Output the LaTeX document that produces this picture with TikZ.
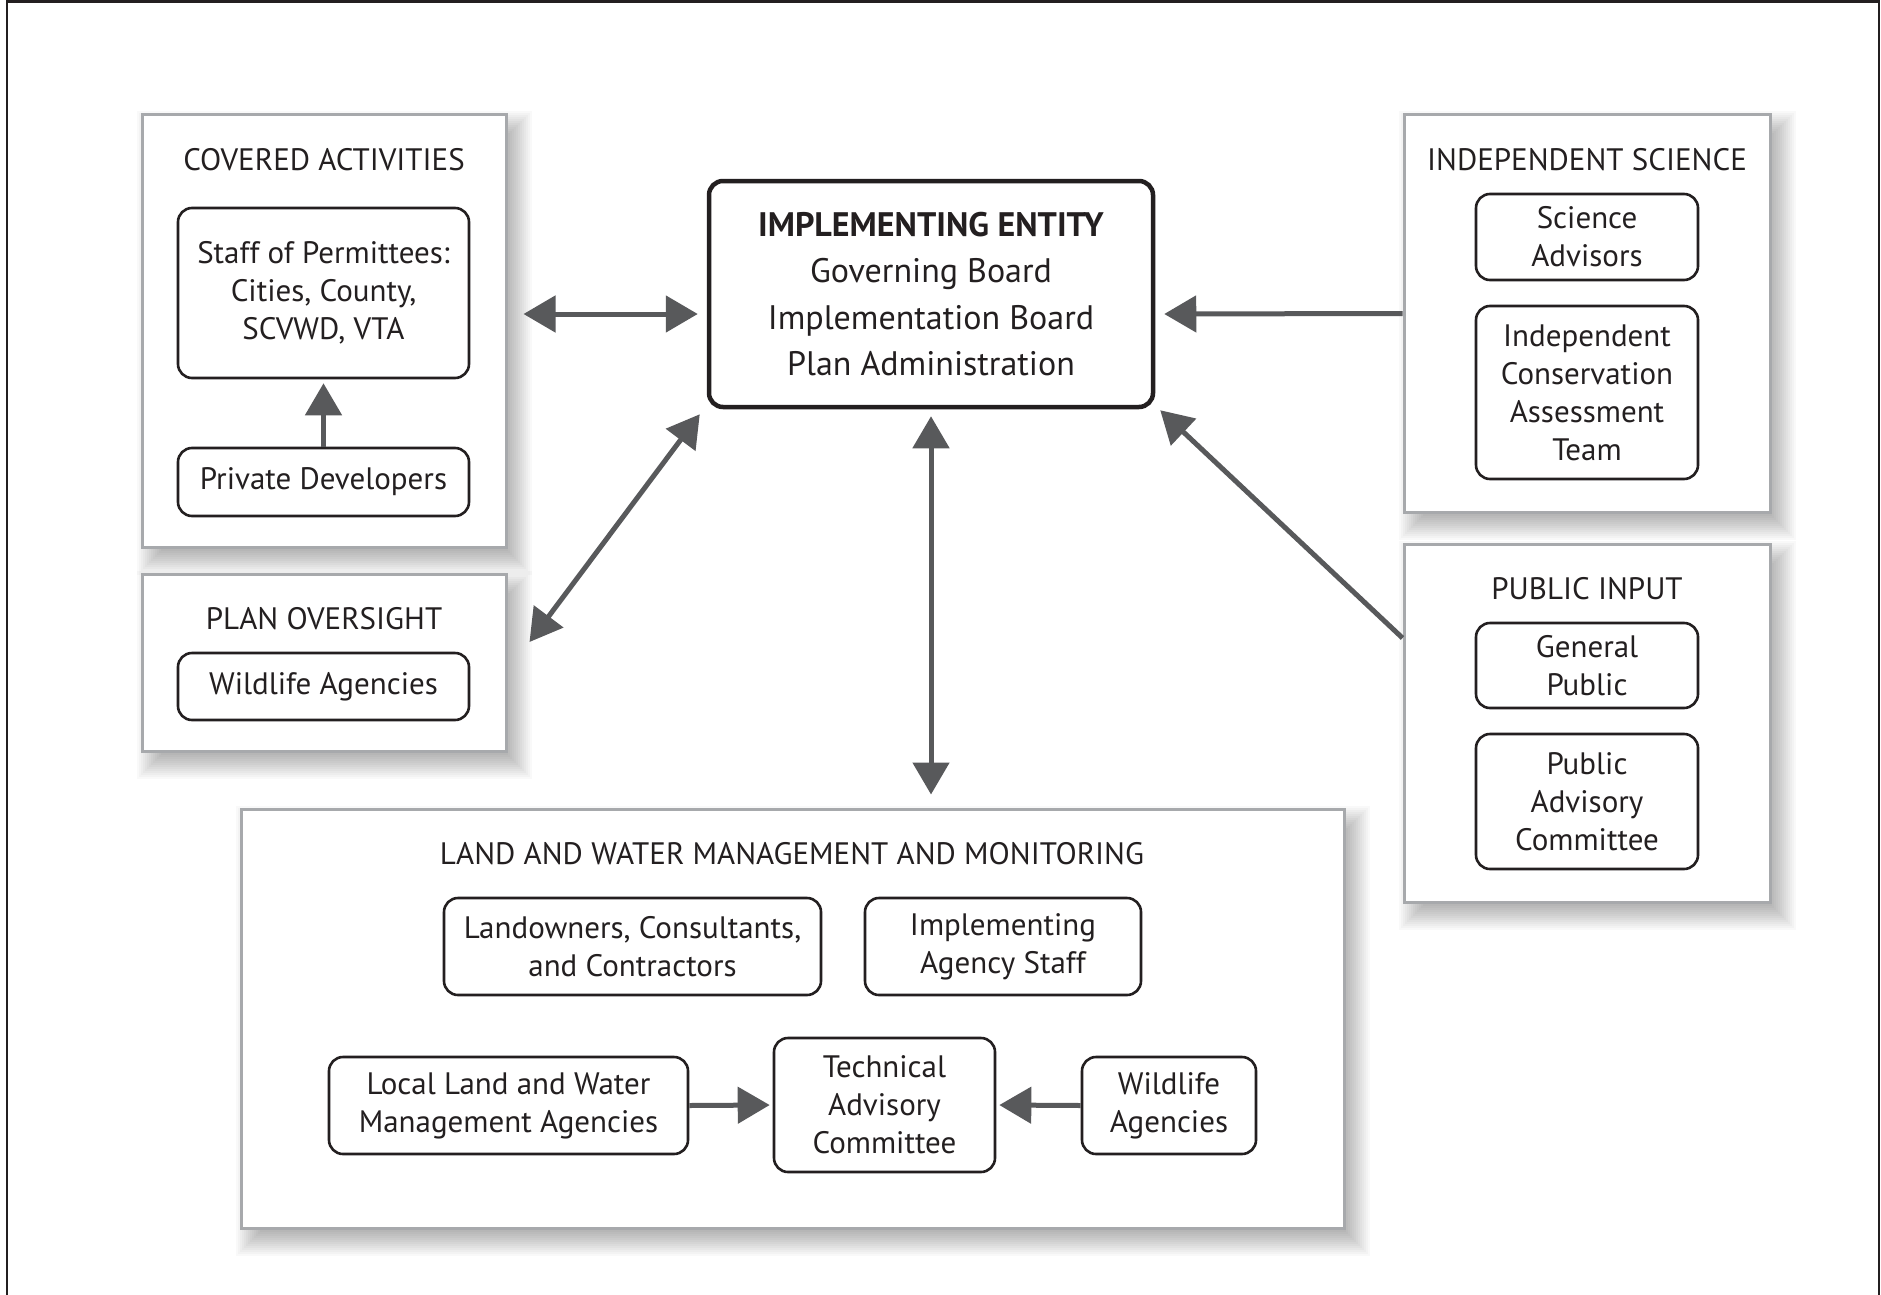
\documentclass[tikz,border=0pt]{standalone}
\usepackage{fontspec}
\setmainfont{PT Sans}
\usetikzlibrary{backgrounds,arrows.meta}
\definecolor{arrowgray}{HTML}{58595B}
\definecolor{panelgray}{HTML}{A7A9AC}
\definecolor{ink}{HTML}{231F20}
\begin{document}
\begin{tikzpicture}[x=1pt,y=-1pt,
  panel/.style={draw=panelgray, line width=3pt, fill=white, inner sep=0pt},
  ptitle/.style={text=ink, font=\fontsize{31}{38}\selectfont, inner sep=0pt},
  ibox/.style={draw=ink, line width=2.6pt, rounded corners=14pt, fill=white, align=center,
    text=ink, font=\fontsize{31}{38}\selectfont, inner sep=0pt},
  arr/.style={draw=arrowgray, line width=5pt, -{Triangle[length=32pt,width=36pt]}},
  dblarr/.style={draw=arrowgray, line width=5pt, {Triangle[length=32pt,width=36pt]}-{Triangle[length=32pt,width=36pt]}}
]
\useasboundingbox (0,0) rectangle (1881,1295);
\draw[ink, line width=2.2pt] (7,1295) -- (7,1.5) -- (1879,1.5) -- (1879,1295);

% panels
\node[panel, minimum width=364, minimum height=432] (cov) at (324,331) {};
\node[panel, minimum width=364, minimum height=177] (po) at (324,662.5) {};
\node[panel, minimum width=366, minimum height=397] (isci) at (1587,313.5) {};
\node[panel, minimum width=366, minimum height=358] (pub) at (1587,723) {};
\node[panel, minimum width=1103, minimum height=419] (land) at (792.5,1018.5) {};

\begin{pgfonlayer}{background}
\fill[white] (0,0) rectangle (1881,1295);
\foreach \P in {cov,po,isci,pub,land}{
  \foreach \d in {-14,-12,...,14}{
    \fill[black, opacity=0.025] ([shift={(10+\d,12+\d)}]\P.north west) rectangle ([shift={(10-\d,12-\d)}]\P.south east);
  }
}
\end{pgfonlayer}

% titles
\node[ptitle] (covt) at (324,160) {COVERED ACTIVITIES};
\node[ptitle] (pot) at (324,619) {PLAN OVERSIGHT};
\node[ptitle] (isct) at (1587,160) {INDEPENDENT SCIENCE};
\node[ptitle] (pubt) at (1587,589) {PUBLIC INPUT};
\node[ptitle] (landt) at (792,854) {LAND AND WATER MANAGEMENT AND MONITORING};

% inner boxes
\node[ibox, minimum width=291, minimum height=170] (staff) at (323.5,293) {Staff of Permittees:\\Cities, County,\\SCVWD, VTA};
\node[ibox, minimum width=291, minimum height=68] (priv) at (323.5,482) {Private Developers};
\node[ibox, minimum width=291, minimum height=67] (wild1) at (323.5,686.5) {Wildlife Agencies};

\node[ibox, line width=4.5pt, minimum width=444, minimum height=226,
  font=\fontsize{34}{46.5}\selectfont] (ie) at (931,294)
  {\textbf{IMPLEMENTING ENTITY}\\Governing Board\\Implementation Board\\Plan Administration};

\node[ibox, minimum width=222, minimum height=86] (sci) at (1587,237) {Science\\Advisors};
\node[ibox, minimum width=222, minimum height=173] (icat) at (1587,392.5) {Independent\\Conservation\\Assessment\\Team};
\node[ibox, minimum width=222, minimum height=85] (gen) at (1587,665.5) {General\\Public};
\node[ibox, minimum width=222, minimum height=135] (pac) at (1587,801.5) {Public\\Advisory\\Committee};

\node[ibox, minimum width=377, minimum height=97] (lown) at (632.5,946.5) {Landowners, Consultants,\\and Contractors};
\node[ibox, minimum width=276, minimum height=97] (ias) at (1003,946.5) {Implementing\\Agency Staff};
\node[ibox, minimum width=359, minimum height=97] (local) at (508.5,1105.5) {Local Land and Water\\Management Agencies};
\node[ibox, minimum width=221, minimum height=134] (tac) at (884.5,1105) {Technical\\Advisory\\Committee};
\node[ibox, minimum width=174, minimum height=97] (wild2) at (1169,1105.5) {Wildlife\\Agencies};

% connectors
\draw[dblarr] ([shift={(16,-17)}]cov.east) -- ([shift={(-9,20)}]ie.west);
\draw[dblarr] ([shift={(22,-20.5)}]po.east) -- ([shift={(-7,5)}]ie.south west);
\draw[dblarr] ([shift={(0,7)}]ie.south) -- ([shift={(0,-13)}]ie.south |- land.north);
\draw[arr] (isci.west) -- ([shift={(9,20)}]ie.east);
\draw[arr] ([shift={(0,-85)}]pub.west) -- ([shift={(5,1)}]ie.south east);
\draw[arr, shorten >=4pt] (priv.north) -- (staff.south);
\draw[arr, shorten >=3pt] (local.east) -- (tac.west);
\draw[arr, shorten >=3pt] (wild2.west) -- (tac.east);
\end{tikzpicture}
\end{document}
